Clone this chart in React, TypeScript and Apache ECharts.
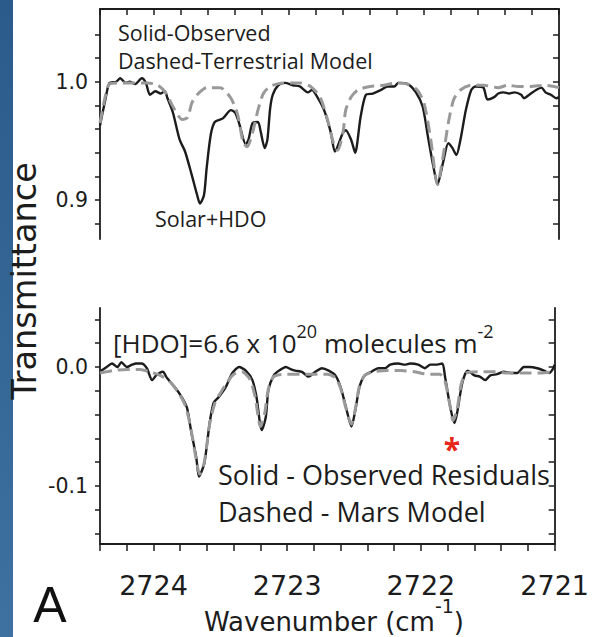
import React, { useEffect, useRef } from "react";
import * as echarts from "echarts";

// Wavenumber window (cm^-1), plotted decreasing to the right
const WN_MIN = 2721;
const WN_MAX = 2724.4;

const wavenumberLabels = [2724, 2723, 2722, 2721];
const upperTickLabels = [0.9, 1.0];
const lowerTickLabels = [-0.1, 0.0];

// Upper panel: observed spectrum (solid) and terrestrial model (dashed)
const observedTransmittance: [number, number][] = [
  [2724.40, 0.963], [2724.36, 0.985], [2724.33, 0.999], [2724.28, 1.000], [2724.25, 1.003],
  [2724.21, 0.999], [2724.18, 1.000], [2724.14, 0.998], [2724.09, 1.003], [2724.06, 0.999],
  [2724.03, 0.989], [2723.99, 0.992], [2723.95, 0.990], [2723.92, 0.992], [2723.90, 0.986],
  [2723.86, 0.974], [2723.81, 0.951], [2723.77, 0.941], [2723.72, 0.921], [2723.68, 0.904],
  [2723.66, 0.897], [2723.63, 0.904], [2723.61, 0.927], [2723.58, 0.955], [2723.55, 0.966],
  [2723.49, 0.969], [2723.43, 0.976], [2723.40, 0.974], [2723.37, 0.965], [2723.32, 0.947],
  [2723.30, 0.951], [2723.27, 0.965], [2723.23, 0.966], [2723.21, 0.958], [2723.18, 0.944],
  [2723.16, 0.951], [2723.14, 0.977], [2723.12, 0.989], [2723.08, 0.997], [2723.03, 0.999],
  [2722.97, 0.997], [2722.92, 0.996], [2722.86, 0.991], [2722.83, 0.993], [2722.79, 0.987],
  [2722.74, 0.976], [2722.69, 0.957], [2722.66, 0.941], [2722.60, 0.957], [2722.58, 0.959],
  [2722.54, 0.951], [2722.51, 0.940], [2722.47, 0.970], [2722.43, 0.989], [2722.38, 0.990],
  [2722.32, 0.993], [2722.27, 0.996], [2722.22, 0.996], [2722.19, 0.999], [2722.12, 0.998],
  [2722.06, 0.991], [2722.01, 0.979], [2721.97, 0.953], [2721.93, 0.928], [2721.90, 0.913],
  [2721.86, 0.931], [2721.82, 0.948], [2721.79, 0.944], [2721.76, 0.938], [2721.73, 0.951],
  [2721.69, 0.976], [2721.65, 0.993], [2721.62, 0.996], [2721.56, 0.995], [2721.53, 0.985],
  [2721.48, 0.987], [2721.45, 0.990], [2721.41, 0.991], [2721.37, 0.990], [2721.33, 0.991],
  [2721.28, 0.989], [2721.26, 0.986], [2721.22, 0.989], [2721.17, 0.993], [2721.13, 0.995],
  [2721.10, 0.991], [2721.06, 0.989], [2721.02, 0.986], [2721.00, 0.987],
];

const terrestrialModel: [number, number][] = [
  [2724.40, 0.965], [2724.36, 0.988], [2724.33, 0.998], [2724.25, 0.999], [2724.15, 0.999],
  [2724.05, 0.999], [2723.97, 0.997], [2723.91, 0.990], [2723.86, 0.979], [2723.79, 0.968],
  [2723.75, 0.970], [2723.72, 0.982], [2723.68, 0.989], [2723.61, 0.995], [2723.51, 0.995],
  [2723.43, 0.986], [2723.38, 0.972], [2723.34, 0.949], [2723.31, 0.945], [2723.27, 0.957],
  [2723.23, 0.976], [2723.19, 0.990], [2723.14, 0.996], [2723.04, 0.999], [2722.92, 0.999],
  [2722.84, 0.996], [2722.77, 0.987], [2722.72, 0.970], [2722.67, 0.948], [2722.64, 0.942],
  [2722.60, 0.957], [2722.58, 0.976], [2722.54, 0.987], [2722.49, 0.993], [2722.40, 0.996],
  [2722.30, 0.997], [2722.20, 0.999], [2722.12, 0.998], [2722.05, 0.993], [2722.00, 0.982],
  [2721.95, 0.951], [2721.90, 0.913], [2721.86, 0.936], [2721.82, 0.965], [2721.78, 0.985],
  [2721.73, 0.993], [2721.65, 0.997], [2721.56, 0.997], [2721.45, 0.995], [2721.38, 0.997],
  [2721.30, 0.996], [2721.21, 0.996], [2721.11, 0.997], [2721.00, 0.995],
];

// Lower panel: observed residuals (solid) and Mars HDO model (dashed)
const observedResiduals: [number, number][] = [
  [2724.40, -0.004], [2724.35, 0.000], [2724.31, 0.003], [2724.27, 0.000], [2724.24, 0.004],
  [2724.20, 0.000], [2724.16, 0.002], [2724.13, 0.003], [2724.09, 0.003], [2724.05, -0.001],
  [2724.01, -0.011], [2723.98, -0.007], [2723.93, -0.004], [2723.90, -0.009], [2723.84, -0.017],
  [2723.79, -0.025], [2723.75, -0.034], [2723.72, -0.053], [2723.68, -0.076], [2723.66, -0.092],
  [2723.62, -0.081], [2723.58, -0.047], [2723.55, -0.030], [2723.51, -0.025], [2723.46, -0.017],
  [2723.41, -0.005], [2723.36, 0.000], [2723.31, -0.003], [2723.26, -0.011], [2723.23, -0.025],
  [2723.19, -0.053], [2723.16, -0.042], [2723.14, -0.019], [2723.10, -0.007], [2723.06, -0.003],
  [2723.01, 0.000], [2722.97, -0.002], [2722.94, -0.003], [2722.89, -0.004], [2722.84, -0.008],
  [2722.79, -0.004], [2722.74, -0.001], [2722.69, -0.003], [2722.64, -0.007], [2722.60, -0.017],
  [2722.56, -0.034], [2722.52, -0.050], [2722.49, -0.036], [2722.46, -0.017], [2722.42, -0.007],
  [2722.37, -0.004], [2722.32, -0.001], [2722.27, -0.001], [2722.23, 0.002], [2722.17, 0.003],
  [2722.12, 0.002], [2722.08, 0.003], [2722.02, 0.002], [2721.97, -0.001], [2721.93, 0.002],
  [2721.88, 0.002], [2721.84, 0.003], [2721.82, -0.008], [2721.78, -0.034], [2721.75, -0.047],
  [2721.73, -0.039], [2721.69, -0.013], [2721.65, -0.003], [2721.60, -0.007], [2721.56, -0.008],
  [2721.52, -0.011], [2721.48, -0.007], [2721.43, -0.006], [2721.38, -0.004], [2721.33, -0.005],
  [2721.28, -0.005], [2721.23, 0.000], [2721.19, 0.000], [2721.13, -0.001], [2721.08, -0.003],
  [2721.04, -0.005], [2721.01, -0.001], [2721.00, 0.002],
];

const marsModel: [number, number][] = [
  [2724.40, -0.005], [2724.30, -0.003], [2724.20, -0.002], [2724.10, -0.002], [2724.03, -0.004],
  [2723.95, -0.007], [2723.88, -0.012], [2723.81, -0.022], [2723.76, -0.033], [2723.72, -0.052],
  [2723.68, -0.078], [2723.655, -0.090], [2723.62, -0.080], [2723.58, -0.048], [2723.54, -0.030],
  [2723.50, -0.022], [2723.45, -0.013], [2723.40, -0.006], [2723.34, -0.004], [2723.28, -0.010],
  [2723.24, -0.025], [2723.20, -0.050], [2723.17, -0.040], [2723.14, -0.018], [2723.10, -0.008],
  [2723.00, -0.006], [2722.90, -0.006], [2722.80, -0.006], [2722.70, -0.006], [2722.64, -0.009],
  [2722.60, -0.018], [2722.56, -0.035], [2722.52, -0.048], [2722.49, -0.035], [2722.46, -0.016],
  [2722.42, -0.007], [2722.35, -0.004], [2722.25, -0.003], [2722.15, -0.003], [2722.05, -0.004],
  [2721.95, -0.006], [2721.86, -0.006], [2721.82, -0.012], [2721.78, -0.034], [2721.76, -0.045],
  [2721.73, -0.036], [2721.70, -0.015], [2721.66, -0.005], [2721.55, -0.004], [2721.45, -0.004],
  [2721.35, -0.005], [2721.20, -0.005], [2721.10, -0.005], [2721.00, -0.004],
];

function steps(start: number, end: number, step: number): number[] {
  const n = Math.round((end - start) / step);
  const out: number[] = [];
  for (let i = 0; i <= n; i++) out.push(Math.round((start + i * step) * 1000) / 1000);
  return out;
}

const INK = "#1c1c1c";
const MODEL_GREY = "#999999";
const ANNOT_FONT = "'Open Sans', 'Noto Sans', sans-serif";
const AXIS_FONT = "'DejaVu Sans', sans-serif";

export default function App() {
  const ref = useRef<HTMLDivElement>(null);

  useEffect(() => {
    if (!ref.current) return;
    const chart = echarts.init(ref.current, undefined, { renderer: "svg" });

    const xTicks = steps(WN_MIN, WN_MAX, 0.2);
    const upperYTicks = steps(0.88, 1.04, 0.02);
    const lowerYTicks = steps(-0.14, 0.04, 0.02);

    const axisLine = { show: true, onZero: false, lineStyle: { color: INK, width: 1.8 } };
    const tickLine = { color: INK, width: 1.5 };
    const yLabel = {
      show: true,
      fontFamily: AXIS_FONT,
      fontSize: 20.5,
      color: INK,
      margin: 12,
      formatter: (v: number) => v.toFixed(1),
    };

    const lineSeries = (
      data: [number, number][],
      xi: number,
      yi: number,
      dashed: boolean
    ) => ({
      type: "line",
      xAxisIndex: xi,
      yAxisIndex: yi,
      data,
      showSymbol: false,
      smooth: 0.25,
      z: dashed ? 3 : 2,
      lineStyle: dashed
        ? { color: MODEL_GREY, width: 3, type: [12, 6] }
        : { color: INK, width: 2.4 },
    });

    const note = (text: string, x: number, y: number, size: number) => ({
      type: "text",
      x,
      y,
      style: { text, fontFamily: ANNOT_FONT, fontSize: size, fill: INK, align: "left", verticalAlign: "middle" },
    });

    chart.setOption({
      animation: false,
      backgroundColor: "#ffffff",
      grid: [
        { left: 100, top: 9, width: 459, height: 230 },
        { left: 100, top: 308, width: 459, height: 236 },
      ],
      xAxis: [
        {
          gridIndex: 0,
          type: "value",
          position: "top",
          inverse: true,
          min: WN_MIN,
          max: WN_MAX,
          axisLine,
          axisTick: { show: true, inside: true, length: 6, lineStyle: tickLine, customValues: xTicks },
          axisLabel: { show: false },
          splitLine: { show: false },
        },
        {
          gridIndex: 1,
          type: "value",
          position: "bottom",
          inverse: true,
          min: WN_MIN,
          max: WN_MAX,
          axisLine,
          axisTick: { show: true, inside: false, length: 7, lineStyle: tickLine, customValues: xTicks },
          axisLabel: {
            show: true,
            customValues: wavenumberLabels,
            formatter: (v: number) => String(Math.round(v)),
            fontFamily: AXIS_FONT,
            fontSize: 27,
            lineHeight: 18,
            color: INK,
            margin: 32,
          },
          splitLine: { show: false },
        },
      ],
      yAxis: [
        {
          gridIndex: 0,
          type: "value",
          position: "left",
          min: 0.867,
          max: 1.0615,
          axisLine,
          axisTick: { show: true, inside: false, length: 5, lineStyle: tickLine, customValues: upperYTicks },
          axisLabel: { ...yLabel, customValues: upperTickLabels },
          splitLine: { show: false },
        },
        {
          gridIndex: 0,
          type: "value",
          position: "right",
          min: 0.867,
          max: 1.0615,
          axisLine,
          axisTick: { show: true, inside: true, length: 6, lineStyle: tickLine, customValues: upperYTicks },
          axisLabel: { show: false },
          splitLine: { show: false },
        },
        {
          gridIndex: 1,
          type: "value",
          position: "left",
          min: -0.1487,
          max: 0.0496,
          axisLine,
          axisTick: { show: true, inside: false, length: 5, lineStyle: tickLine, customValues: lowerYTicks },
          axisLabel: { ...yLabel, customValues: lowerTickLabels },
          splitLine: { show: false },
        },
        {
          gridIndex: 1,
          type: "value",
          position: "right",
          min: -0.1487,
          max: 0.0496,
          axisLine,
          axisTick: { show: true, inside: true, length: 6, lineStyle: tickLine, customValues: lowerYTicks },
          axisLabel: { show: false },
          splitLine: { show: false },
        },
      ],
      series: [
        lineSeries(observedTransmittance, 0, 0, false),
        lineSeries(terrestrialModel, 0, 0, true),
        lineSeries(observedResiduals, 1, 2, false),
        lineSeries(marsModel, 1, 2, true),
      ],
      graphic: [
        {
          type: "rect",
          shape: { x: 0, y: 0, width: 13, height: 637 },
          style: {
            fill: new echarts.graphic.LinearGradient(0, 0, 0, 1, [
              { offset: 0, color: "#2a5b8b" },
              { offset: 1, color: "#3e71a0" },
            ]),
          },
          z: 0,
        },
        {
          type: "text",
          x: 24,
          y: 281,
          rotation: Math.PI / 2,
          style: {
            text: "Transmittance",
            fontFamily: AXIS_FONT,
            fontSize: 33.5,
            fill: INK,
            align: "center",
            verticalAlign: "middle",
          },
        },
        note("Solid-Observed", 118, 32, 21.5),
        note("Dashed-Terrestrial Model", 118, 60, 21.5),
        note("Solar+HDO", 155, 218, 21.5),
        {
          type: "text",
          x: 113,
          y: 343,
          style: {
            text: "{m|[HDO]=6.6 x 10}{s|20}{m| molecules m}{s|-2}",
            align: "left",
            verticalAlign: "middle",
            rich: {
              m: { fontFamily: ANNOT_FONT, fontSize: 26, fill: INK, lineHeight: 42, verticalAlign: "middle" },
              s: { fontFamily: ANNOT_FONT, fontSize: 18, fill: INK, lineHeight: 20, verticalAlign: "top" },
            },
          },
        },
        {
          type: "text",
          x: 452,
          y: 448,
          style: {
            text: "*",
            fontFamily: ANNOT_FONT,
            fontSize: 30,
            lineHeight: 14,
            fontWeight: "bold",
            fill: "#e8251b",
            align: "center",
            verticalAlign: "middle",
          },
        },
        note("Solid - Observed Residuals", 218, 474, 27),
        note("Dashed - Mars Model", 218, 511, 27),
        {
          type: "text",
          x: 50,
          y: 605,
          style: { text: "A", fontFamily: "'Liberation Sans', Arial, sans-serif", fontSize: 50, fill: "#111111", align: "center", verticalAlign: "middle" },
        },
        {
          type: "text",
          x: 334,
          y: 622,
          style: {
            text: "{m|Wavenumber (cm}{s|-1}{m|)}",
            align: "center",
            verticalAlign: "middle",
            rich: {
              m: { fontFamily: AXIS_FONT, fontSize: 26, fill: INK, lineHeight: 52, verticalAlign: "middle" },
              s: { fontFamily: AXIS_FONT, fontSize: 19, fill: INK, lineHeight: 8, verticalAlign: "top" },
            },
          },
        },
      ],
    });

    return () => chart.dispose();
  }, []);

  return (
    <div
      ref={ref}
      style={{ position: "absolute", left: 0, top: 0, width: 592, height: 637, background: "#ffffff" }}
    />
  );
}
